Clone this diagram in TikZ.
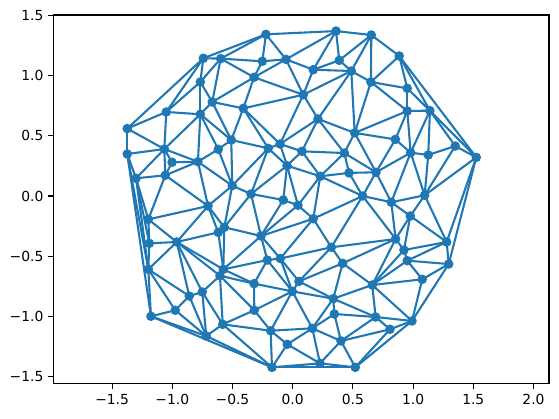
\documentclass[tikz,border=0pt]{standalone}
\usepackage{fontspec}
\setmainfont{DejaVu Sans}
\definecolor{tabblue}{RGB}{31,119,180}

\begin{document}
\begin{tikzpicture}[
    x=90.3pt, y=90.3pt,
    edge/.style={tabblue, line width=1.56pt},
    dot/.style={circle, fill=tabblue, inner sep=0pt, minimum size=7.2pt},
    spine/.style={line width=0.83pt},
    ticklab/.style={font=\fontsize{10.4}{12}\selectfont, inner sep=0pt},
]
    \useasboundingbox (-2.431,-1.844) rectangle (2.212,1.628);

    % sample points
    \foreach \n/\x/\y in {
        1/-0.222/1.343, 2/0.360/1.370, 3/0.653/1.337, 4/0.885/1.163,
        5/-0.742/1.144, 6/-0.598/1.141, 7/-0.252/1.119, 8/-0.056/1.135,
        9/0.171/1.049, 10/0.387/1.127, 11/0.487/1.038, 12/-0.767/0.947,
        13/-0.321/0.986, 14/0.650/0.947, 15/0.952/0.894, 16/0.088/0.841,
        17/-0.668/0.781, 18/-0.410/0.728, 19/-1.050/0.698, 20/-0.767/0.679,
        21/0.952/0.706, 22/1.140/0.709, 23/0.210/0.640, 24/-1.374/0.560,
        25/0.515/0.524, 26/0.853/0.470, 27/-0.510/0.465, 28/1.350/0.415,
        29/-0.105/0.432, 30/-0.203/0.396, 31/-1.066/0.390, 32/-0.618/0.388,
        33/0.077/0.371, 34/0.429/0.357, 35/0.980/0.360, 36/1.126/0.341,
        37/-1.374/0.349, 38/1.525/0.321, 39/-1.002/0.280, 40/-0.787/0.285,
        41/-0.047/0.252, 42/0.692/0.197, 43/0.468/0.192, 44/-1.058/0.172,
        45/0.229/0.164, 46/-1.301/0.147, 47/-0.502/0.086, 48/-0.346/0.017,
        49/1.096/0.006, 50/0.581/0.000, 51/-0.078/-0.033, 52/0.819/-0.052,
        53/0.044/-0.077, 54/-0.703/-0.083, 55/0.977/-0.166, 56/0.171/-0.189,
        57/-1.199/-0.194, 58/-0.568/-0.260, 59/-0.618/-0.302, 60/-0.263/-0.332,
        61/0.855/-0.357, 62/1.279/-0.382, 63/-0.963/-0.382, 64/-1.191/-0.393,
        65/0.321/-0.426, 66/0.924/-0.449, 67/-0.103/-0.519, 68/-0.211/-0.532,
        69/0.952/-0.537, 70/0.415/-0.559, 71/1.296/-0.565, 72/-1.199/-0.609,
        73/-0.576/-0.609, 74/-0.604/-0.662, 75/1.076/-0.692, 76/0.052/-0.709,
        77/-0.321/-0.728, 78/0.661/-0.739, 79/-0.003/-0.792, 80/-0.751/-0.797,
        81/-0.859/-0.831, 82/0.337/-0.853, 83/-0.975/-0.949, 84/-0.319/-0.949,
        85/0.346/-0.980, 86/-1.177/-0.999, 87/0.689/-1.005, 88/0.991/-1.038,
        89/-0.581/-1.066, 90/0.163/-1.099, 91/0.808/-1.107, 92/-0.183/-1.119,
        93/-0.718/-1.163, 94/0.401/-1.204, 95/-0.045/-1.232, 96/0.227/-1.390,
        97/-0.172/-1.423, 98/0.520/-1.423}
        \coordinate (p\n) at (\x,\y);

    % triangulation edges
    \foreach \a/\b in {
        1/2,1/5,1/6,1/7,1/8, 2/3,2/8,2/9,2/10, 3/4,3/10,3/11,3/14,
        4/14,4/15,4/22,4/38, 5/6,5/12,5/19,5/24, 6/7,6/12,6/13,6/17,
        7/8,7/13, 8/9,8/13,8/16, 9/10,9/11,9/16, 10/11,
        11/14,11/16,11/23,11/25, 12/17,12/19,12/20, 13/16,13/17,13/18,
        14/15,14/21,14/25, 15/21,15/22, 16/18,16/23,16/29,
        17/18,17/20,17/27, 18/27,18/29,18/30, 19/20,19/24,19/31,
        20/27,20/31,20/32,20/40, 21/22,21/25,21/26,21/35,
        22/28,22/35,22/36,22/38, 23/25,23/29,23/33,23/34, 24/31,24/37,
        25/26,25/34,25/42, 26/35,26/42, 27/30,27/32,27/47,
        28/36,28/38,28/49, 29/30,29/33,29/41, 30/41,30/47,30/48,
        31/37,31/39,31/40,31/44,31/46, 32/40,32/47, 33/34,33/41,33/45,
        34/42,34/43,34/45, 35/36,35/42,35/49,35/52, 36/49,
        37/46,37/72,37/86, 38/49,38/62,38/71, 39/40,39/44,
        40/44,40/47,40/54, 41/45,41/48,41/51,41/53, 42/43,42/50,42/52,
        43/45,43/50, 44/46,44/54,44/57, 45/50,45/53,45/56,
        46/57,46/64,46/72, 47/48,47/54,47/58, 48/51,48/58,48/60,
        49/52,49/55,49/62, 50/52,50/56,50/61,50/65, 51/53,51/60,
        52/55,52/61, 53/56,53/60, 54/57,54/58,54/59,54/63,
        55/61,55/62,55/66, 56/60,56/65,56/67, 57/63,57/64,
        58/59,58/60,58/73, 59/63,59/73, 60/67,60/68,60/73,
        61/65,61/66,61/70,61/78, 62/66,62/69,62/71,
        63/64,63/72,63/73,63/74,63/80,63/81, 64/72,
        65/67,65/70,65/76, 66/69,66/78, 67/68,67/76,67/79,
        68/73,68/77,68/79, 69/71,69/75,69/78, 70/76,70/78,70/82,
        71/75,71/88, 72/81,72/83,72/86, 73/74,73/77,
        74/77,74/80,74/84,74/89, 75/78,75/88, 76/79,76/82, 77/79,77/84,
        78/82,78/87,78/88, 79/82,79/84,79/90,79/92, 80/81,80/89,80/93,
        81/83,81/93, 82/85,82/87,82/90, 83/86,83/93, 84/89,84/92,
        85/87,85/90,85/94, 86/93,86/97, 87/88,87/91,87/94, 88/91,88/98,
        89/92,89/93,89/97, 90/92,90/94,90/95,90/96, 91/94,91/98,
        92/95,92/97, 93/97, 94/96,94/98, 95/96,95/97, 96/97,96/98, 97/98}
        \draw[edge] (p\a) -- (p\b);

    \foreach \n in {1,...,98}
        \node[dot] (m\n) at (p\n) {};

    % axes frame and ticks
    \draw[spine] (-1.988,-1.561) rectangle (2.129,1.503);
    \foreach \t/\lab in {-1.5/−1.5, -1.0/−1.0, -0.5/−0.5, 0.0/0.0,
                         0.5/0.5, 1.0/1.0, 1.5/1.5, 2.0/2.0} {
        \draw[spine] (\t,-1.561) -- ++(0,-3.65pt);
        \node[ticklab, anchor=north] (xt\lab) at ([yshift=-7.3pt]\t,-1.561) {\lab};
    }
    \foreach \t/\lab in {-1.5/−1.5, -1.0/−1.0, -0.5/−0.5, 0.0/0.0,
                         0.5/0.5, 1.0/1.0, 1.5/1.5} {
        \draw[spine] (-1.988,\t) -- ++(-3.65pt,0);
        \node[ticklab, anchor=east] (yt\lab) at ([xshift=-7.3pt]-1.988,\t) {\lab};
    }
\end{tikzpicture}
\end{document}
